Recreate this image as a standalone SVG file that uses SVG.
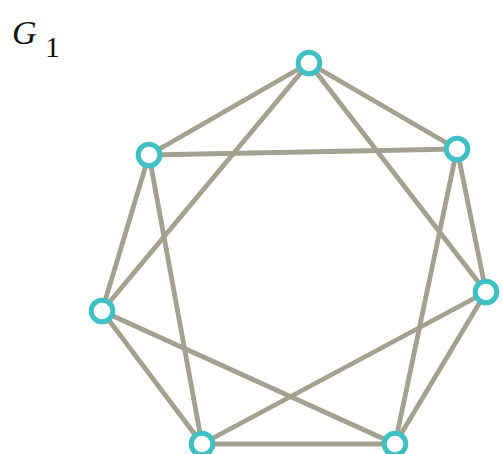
<svg xmlns="http://www.w3.org/2000/svg" width="502" height="454" viewBox="0 0 502 454">
<style>
.edge{stroke:#a3a18f;stroke-width:4.8;stroke-linecap:round;fill:none}
.node circle{fill:#ffffff;stroke:#3ec0c4;stroke-width:5}
.lbl{font-family:"Liberation Serif",serif;fill:#111}
</style>
<rect width="502" height="454" fill="#ffffff"/>
<text class="lbl" x="12" y="44" font-size="34" font-style="italic">G</text>
<text class="lbl" x="45" y="57" font-size="30">1</text>
<g id="edges">
<line class="edge" x1="309" y1="63" x2="457" y2="149"/>
<line class="edge" x1="457" y1="149" x2="486" y2="292"/>
<line class="edge" x1="486" y1="292" x2="395" y2="444"/>
<line class="edge" x1="395" y1="444" x2="202" y2="444"/>
<line class="edge" x1="202" y1="444" x2="102" y2="311"/>
<line class="edge" x1="102" y1="311" x2="149" y2="155"/>
<line class="edge" x1="149" y1="155" x2="309" y2="63"/>
<line class="edge" x1="309" y1="63" x2="486" y2="292"/>
<line class="edge" x1="457" y1="149" x2="395" y2="444"/>
<line class="edge" x1="486" y1="292" x2="202" y2="444"/>
<line class="edge" x1="395" y1="444" x2="102" y2="311"/>
<line class="edge" x1="202" y1="444" x2="149" y2="155"/>
<line class="edge" x1="102" y1="311" x2="309" y2="63"/>
<line class="edge" x1="149" y1="155" x2="457" y2="149"/>
</g>
<g id="nA" class="node"><circle cx="309" cy="63" r="10.8"/></g>
<g id="nB" class="node"><circle cx="457" cy="149" r="10.8"/></g>
<g id="nC" class="node"><circle cx="486" cy="292" r="10.8"/></g>
<g id="nD" class="node"><circle cx="395" cy="444" r="10.8"/></g>
<g id="nE" class="node"><circle cx="202" cy="444" r="10.8"/></g>
<g id="nF" class="node"><circle cx="102" cy="311" r="10.8"/></g>
<g id="nG" class="node"><circle cx="149" cy="155" r="10.8"/></g>
</svg>
